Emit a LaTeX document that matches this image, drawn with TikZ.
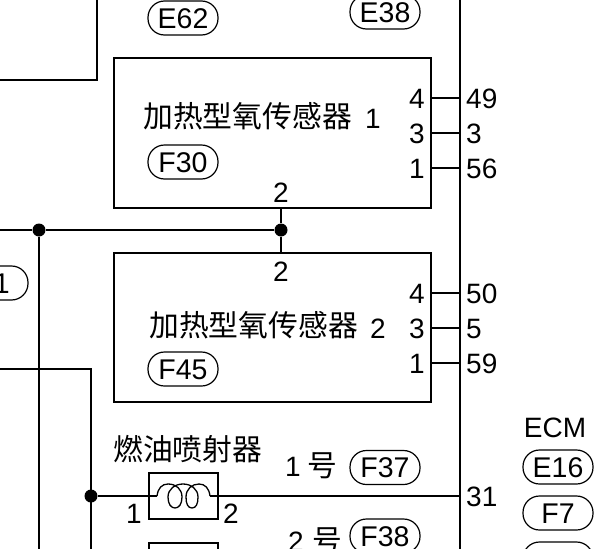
\documentclass[tikz,border=0pt]{standalone}
\usepackage{fontspec}
\setmainfont{Liberation Sans}
\newfontfamily\cjk{Noto Sans CJK SC}
\tikzset{
  wire/.style={line width=1.5pt,black},
  pill/.style={draw,line width=1.2pt,rounded corners=16.5pt,minimum width=70pt,minimum height=34pt,inner sep=0pt,font=\fontsize{28.5}{28}\selectfont,text height=20pt,text depth=0pt},
  lbl/.style={inner sep=0pt,font=\fontsize{28}{28}\selectfont,text height=20pt,text depth=0pt},
  cn/.style={inner sep=0pt,font=\fontsize{29.8}{31}\selectfont\cjk},
  dot/.style={circle,fill=black,draw=none,minimum size=13pt,inner sep=0pt}
}
\begin{document}
\begin{tikzpicture}[x=1pt,y=-1pt]
\useasboundingbox (0,0) rectangle (600,549);
\clip (0,0) rectangle (600,549);
% boxes
\node[draw,line width=1.6pt,minimum width=317pt,minimum height=150pt,inner sep=0pt] (s1) at (272.5,133) {};
\node[draw,line width=1.6pt,minimum width=317pt,minimum height=149pt,inner sep=0pt] (s2) at (272.5,327.5) {};
\node[draw,line width=1.4pt,minimum width=69pt,minimum height=46pt,inner sep=0pt] (inj) at (183.5,496) {};
\node[draw,line width=1.4pt,minimum width=69pt,minimum height=46pt,inner sep=0pt] (inj2) at (183.5,566) {};
% coordinates
\coordinate (ecmT) at (460,0);
\coordinate (ecmB) at (460,549);
\coordinate (tl1) at (97,0);
\coordinate (tl2) at (97,80);
\coordinate (tl3) at (0,80);
\coordinate (busL) at (0,230);
\coordinate (l2a) at (0,369);
\coordinate (l2b) at (91,369);
\coordinate (l2c) at (91,549);
\coordinate (v39b) at (39,549);
\coordinate (e49) at (460,98);
\coordinate (e3) at (460,133);
\coordinate (e56) at (460,168);
\coordinate (e50) at (460,293);
\coordinate (e5) at (460,328);
\coordinate (e59) at (460,363);
\coordinate (e31) at (460,496);
\coordinate (p49) at (431,98);
\coordinate (p3) at (431,133);
\coordinate (p56) at (431,168);
\coordinate (p50) at (431,293);
\coordinate (p5) at (431,328);
\coordinate (p59) at (431,363);
\coordinate (s1b) at (281,208);
\coordinate (s2t) at (281,253);
\coordinate (coilL) at (157,496);
\coordinate (coilR) at (210,496);
\node[dot] (j1) at (39,230) {};
\node[dot] (j2) at (281,230) {};
\node[dot] (j3) at (91,496) {};
% wires
\draw[wire] (ecmT) -- (ecmB);
\draw[wire] (tl1) -- (tl2) -- (tl3);
\draw[wire] (busL) -- (j1) -- (j2);
\draw[wire] (s1b) -- (j2) -- (s2t);
\draw[wire] (j1) -- (v39b);
\draw[wire] (l2a) -- (l2b) -- (l2c);
\foreach \a/\b in {p49/e49,p3/e3,p56/e56,p50/e50,p5/e5,p59/e59} \draw[wire] (\a) -- (\b);
\draw[wire] (j3) -- (coilL);
\draw[wire] (coilR) -- (e31);
% coil
\draw[line width=1.3pt] (coilL) .. controls (158,488) and (162,484) .. (168,484)
  .. controls (176,484) and (182,489) .. (182,497)
  .. controls (182,504) and (179,508) .. (175,508)
  .. controls (171,508) and (168,504) .. (168,497)
  .. controls (168,489) and (175,484) .. (183,484)
  .. controls (191,484) and (198,489) .. (198,497)
  .. controls (198,504) and (196,508) .. (192,508)
  .. controls (188,508) and (186,504) .. (186,497)
  .. controls (186,489) and (192,484) .. (199,484)
  .. controls (205,484) and (209,488) .. (coilR);
% pills
\node[pill] (pE62) at (183,18) {E62};
\node[pill] (pE38) at (385,12) {E38};
\node[pill] (pF30) at (183,162) {F30};
\node[pill] (pF45) at (183,369) {F45};
\node[pill] (pF37) at (385,467.5) {F37};
\node[pill] (pF38) at (385,536) {F38};
\node[pill] (pE16) at (558,467) {E16};
\node[pill] (pF7) at (558,513) {F7};
\node[pill] (pF8) at (558,559) {F8};
\node[pill] (pLeft) at (-7,283) {F1};
% labels
\node[cn,anchor=west] (t1) at (143,116) {加热型氧传感器};
\node[lbl] (t1n) at (373,118) {1};
\node[cn,anchor=west] (t2) at (149,325) {加热型氧传感器};
\node[lbl] (t2n) at (378,328) {2};
\node[cn,anchor=west] (t3) at (113,449) {燃油喷射器};
\node[lbl] (n1h) at (293,466) {1};
\node[cn] (h1) at (322,466) {号};
\node[lbl] (n2h) at (296,541) {2};
\node[cn] (h2) at (327,541) {号};
\node[lbl] (ecm) at (555,427) {ECM};
\node[lbl] (l1) at (417,98) {4};
\node[lbl] (l2) at (417,133) {3};
\node[lbl] (l3) at (417,168) {1};
\node[lbl] (l4) at (417,293) {4};
\node[lbl] (l5) at (417,328) {3};
\node[lbl] (l6) at (417,363) {1};
\node[lbl] (l7) at (281,192) {2};
\node[lbl] (l8) at (281,271) {2};
\node[lbl,anchor=west] (r1) at (466,98) {49};
\node[lbl,anchor=west] (r2) at (466,133) {3};
\node[lbl,anchor=west] (r3) at (466,168) {56};
\node[lbl,anchor=west] (r4) at (466,293) {50};
\node[lbl,anchor=west] (r5) at (466,328) {5};
\node[lbl,anchor=west] (r6) at (466,363) {59};
\node[lbl,anchor=west] (r7) at (466,496) {31};
\node[lbl] (c1) at (134,513) {1};
\node[lbl] (c2) at (231,513) {2};
\end{tikzpicture}
\end{document}
